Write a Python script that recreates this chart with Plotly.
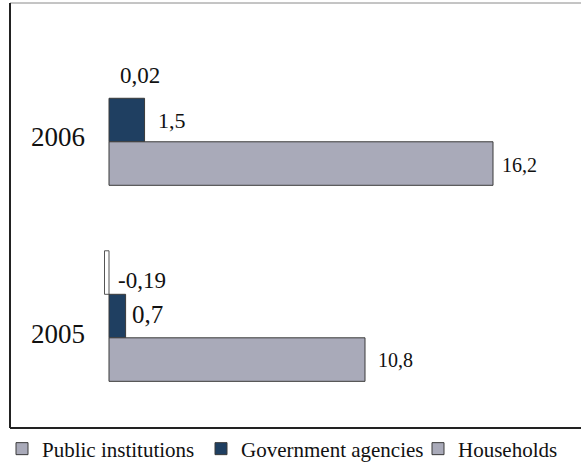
import plotly.graph_objects as go

# Categories (bottom to top on the axis)
years = ["2005", "2006"]

# Series values per year
public_institutions = [-0.19, 0.02]
government_agencies = [0.7, 1.5]
households = [10.8, 16.2]

# Value labels as printed
public_labels = ["-0,19", "0,02"]
government_labels = ["0,7", "1,5"]
household_labels = ["10,8", "16,2"]

GRAY = "#a9aab9"
NAVY = "#1f3f61"
EDGE = "#3a3a3a"
FONT = "Liberation Serif"

BAR_W = 0.222  # width of one bar in category units

fig = go.Figure()

# Legend-only entry for the public institutions series
fig.add_trace(go.Bar(
    name="Public institutions", y=[None], x=[None], orientation="h",
    marker=dict(color=GRAY, line=dict(color=EDGE, width=1)),
    legend="legend",
))
fig.add_trace(go.Bar(
    name="Public institutions", y=years, x=public_institutions, orientation="h",
    width=BAR_W, offset=BAR_W / 2, showlegend=False,
    marker=dict(color=["#ffffff", "rgba(0,0,0,0)"],
                line=dict(color=["#555555", "rgba(0,0,0,0)"], width=[1, 0])),
))
fig.add_trace(go.Bar(
    name="Government agencies", y=years, x=government_agencies, orientation="h",
    width=BAR_W, offset=-BAR_W / 2,
    marker=dict(color=NAVY, line=dict(color=EDGE, width=1)),
    legend="legend2",
))
fig.add_trace(go.Bar(
    name="Households", y=years, x=households, orientation="h",
    width=BAR_W, offset=-1.5 * BAR_W,
    marker=dict(color=GRAY, line=dict(color=EDGE, width=1)),
    legend="legend3",
))

# Value annotations placed from the data values
annotations = []
label_specs = [
    (households, household_labels, -1, [11, 7], [20, 20], [0, -1]),
    (government_agencies, government_labels, 0, [4, 11], [25, 22], [2, 0]),
    (public_institutions, public_labels, 1, [7, 9], [23, 23], [-8, 1]),
]
for values, labels, slot, xshifts, sizes, yshifts in label_specs:
    for i, (v, lab, xs, sz, ys) in enumerate(zip(values, labels, xshifts, sizes, yshifts)):
        annotations.append(dict(
            x=max(v, 0), y=i + slot * BAR_W, xref="x", yref="y", text=lab,
            showarrow=False, xanchor="left", yanchor="middle",
            xshift=xs, yshift=ys,
            font=dict(family=FONT, size=sz, color="#111111"),
        ))

# Outer frame around the chart body (left, top and bottom rules)
L, R, T, B = 100, 1, 3, 40
W, H = 581, 468
pw = W - L - R
fx0 = (10 - L) / pw
shapes = [
    dict(type="line", xref="paper", yref="paper", x0=fx0, x1=1.01, y0=1, y1=1,
         line=dict(color="#8a8a8a", width=1)),
    dict(type="line", xref="paper", yref="paper", x0=fx0, x1=1.01, y0=0, y1=0,
         line=dict(color="#222222", width=2)),
    dict(type="line", xref="paper", yref="paper", x0=fx0, x1=fx0, y0=0, y1=1,
         line=dict(color="#222222", width=2)),
]

legend_font = dict(family=FONT, size=21, color="#111111")
legend_y = 1 - 449 / H


def legend_at(px):
    return dict(
        orientation="h", xref="container", yref="container",
        x=px / W, y=legend_y, xanchor="left", yanchor="middle",
        font=legend_font, itemwidth=30, bgcolor="rgba(0,0,0,0)",
    )


fig.update_layout(
    width=W, height=H,
    margin=dict(l=L, r=R, t=T, b=B),
    paper_bgcolor="white", plot_bgcolor="white",
    barmode="overlay",
    font=dict(family=FONT, color="#111111"),
    xaxis=dict(range=[-0.38, 19.87], visible=False, fixedrange=True),
    yaxis=dict(
        type="category", categoryorder="array", categoryarray=years,
        range=[-0.571, 1.597], showgrid=False, zeroline=False, showline=False,
        ticks="", ticklabelstandoff=14, ticklabelshift=17,
        tickfont=dict(family=FONT, size=27, color="#111111"),
        fixedrange=True,
    ),
    showlegend=True,
    legend=legend_at(2),
    legend2=legend_at(201),
    legend3=legend_at(418),
    annotations=annotations,
    shapes=shapes,
)

fig.write_html("out.html")
